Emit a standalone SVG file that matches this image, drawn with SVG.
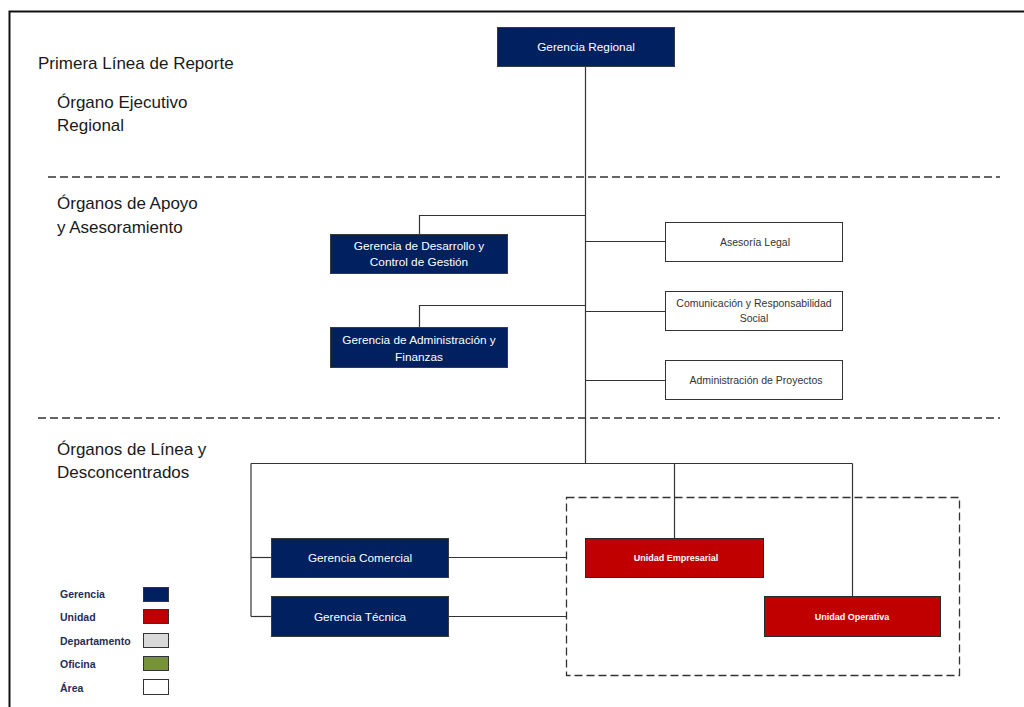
<svg xmlns="http://www.w3.org/2000/svg" width="1024" height="707" viewBox="0 0 1024 707">
<style>
.sec{font-family:"Liberation Sans",Arial,sans-serif;font-size:17px;fill:#1a1a1a}
.g rect{fill:#002060;stroke:#3a3a3a;stroke-width:1}
.g text{font-family:"Liberation Sans",Arial,sans-serif;font-size:11.8px;fill:#ffffff;text-anchor:middle}
.a rect{fill:#ffffff;stroke:#333333;stroke-width:1}
.a text{font-family:"Liberation Sans",Arial,sans-serif;font-size:10.5px;fill:#333333;text-anchor:middle}
.u rect{fill:#c00000;stroke:#2a2a2a;stroke-width:1}
.u text{font-family:"Liberation Sans",Arial,sans-serif;font-size:9px;font-weight:bold;fill:#ffffff;text-anchor:middle}
.conn{stroke:#333333;stroke-width:1.2;fill:none}
.dash{stroke:#333333;stroke-width:1.3;stroke-dasharray:8,4;fill:none}
.leg text{font-family:"Liberation Sans",Arial,sans-serif;font-size:10.5px;font-weight:bold;fill:#1f2d5a}
.leg rect{stroke:#333333;stroke-width:1}
</style>
<rect width="1024" height="707" fill="#ffffff"/>
<path d="M9.5 707 V11.5 H1024" stroke="#111111" stroke-width="2" fill="none"/>

<g id="sections">
<text class="sec" x="38" y="69">Primera Línea de Reporte</text>
<text class="sec" x="57" y="108">Órgano Ejecutivo</text>
<text class="sec" x="57" y="131">Regional</text>
<text class="sec" x="57" y="209">Órganos de Apoyo</text>
<text class="sec" x="57" y="233">y Asesoramiento</text>
<text class="sec" x="57" y="455">Órganos de Línea y</text>
<text class="sec" x="57" y="478">Desconcentrados</text>
<line class="dash" x1="48" y1="177" x2="1000" y2="177"/>
<line class="dash" x1="38" y1="418" x2="1000" y2="418"/>
<rect id="grupo-unidades" class="dash" x="566.5" y="497.5" width="393" height="178"/>
</g>

<g id="connectors">
<line class="conn" x1="585.5" y1="67" x2="585.5" y2="463.5"/>
<polyline class="conn" points="419.5,234 419.5,215.5 585.5,215.5"/>
<line class="conn" x1="585.5" y1="241.5" x2="665" y2="241.5"/>
<polyline class="conn" points="419.5,327 419.5,305.5 585.5,305.5"/>
<line class="conn" x1="585.5" y1="311.5" x2="665" y2="311.5"/>
<line class="conn" x1="585.5" y1="380.5" x2="665" y2="380.5"/>
<line class="conn" x1="251" y1="463.5" x2="852.5" y2="463.5"/>
<line class="conn" x1="251" y1="463.5" x2="251" y2="616.5"/>
<line class="conn" x1="251" y1="557.5" x2="271" y2="557.5"/>
<line class="conn" x1="251" y1="616.5" x2="271" y2="616.5"/>
<line class="conn" x1="448" y1="557.5" x2="566.5" y2="557.5"/>
<line class="conn" x1="448" y1="616.5" x2="566.5" y2="616.5"/>
<line class="conn" x1="674.5" y1="463.5" x2="674.5" y2="538"/>
<line class="conn" x1="852.5" y1="463.5" x2="852.5" y2="596"/>
</g>

<g id="gerencia-regional" class="g">
<rect x="497.5" y="27.5" width="177" height="39"/>
<text x="586" y="51">Gerencia Regional</text>
</g>
<g id="gerencia-desarrollo" class="g">
<rect x="330.5" y="234.5" width="177" height="39"/>
<text x="419" y="250">Gerencia de Desarrollo y</text>
<text x="419" y="266">Control de Gestión</text>
</g>
<g id="gerencia-administracion" class="g">
<rect x="330.5" y="327.5" width="177" height="40"/>
<text x="419" y="344">Gerencia de Administración y</text>
<text x="419" y="361">Finanzas</text>
</g>
<g id="asesoria-legal" class="a">
<rect x="665.5" y="222.5" width="177" height="39"/>
<text x="755" y="246">Asesoría Legal</text>
</g>
<g id="comunicacion" class="a">
<rect x="665.5" y="291.5" width="177" height="39"/>
<text x="754" y="307">Comunicación y Responsabilidad</text>
<text x="754" y="322">Social</text>
</g>
<g id="administracion-proyectos" class="a">
<rect x="665.5" y="360.5" width="177" height="39"/>
<text x="756" y="384">Administración de Proyectos</text>
</g>
<g id="gerencia-comercial" class="g">
<rect x="271.5" y="538.5" width="177" height="39"/>
<text x="360" y="562">Gerencia Comercial</text>
</g>
<g id="gerencia-tecnica" class="g">
<rect x="271.5" y="596.5" width="177" height="40"/>
<text x="360" y="621">Gerencia Técnica</text>
</g>
<g id="unidad-empresarial" class="u">
<rect x="585.5" y="538.5" width="178" height="39"/>
<text x="676" y="561">Unidad Empresarial</text>
</g>
<g id="unidad-operativa" class="u">
<rect x="764.5" y="596.5" width="176" height="40"/>
<text x="852" y="620">Unidad Operativa</text>
</g>

<g id="legend" class="leg">
<text x="60" y="598">Gerencia</text>
<rect x="143.5" y="587.5" width="25" height="14" fill="#002060"/>
<text x="60" y="621">Unidad</text>
<rect x="143.5" y="609.5" width="25" height="14" fill="#c00000"/>
<text x="60" y="645">Departamento</text>
<rect x="143.5" y="633.5" width="25" height="14" fill="#d9d9d9"/>
<text x="60" y="668">Oficina</text>
<rect x="143.5" y="656.5" width="25" height="14" fill="#76923c"/>
<text x="60" y="692">Área</text>
<rect x="143.5" y="679.5" width="25" height="15" fill="#ffffff"/>
</g>
</svg>
